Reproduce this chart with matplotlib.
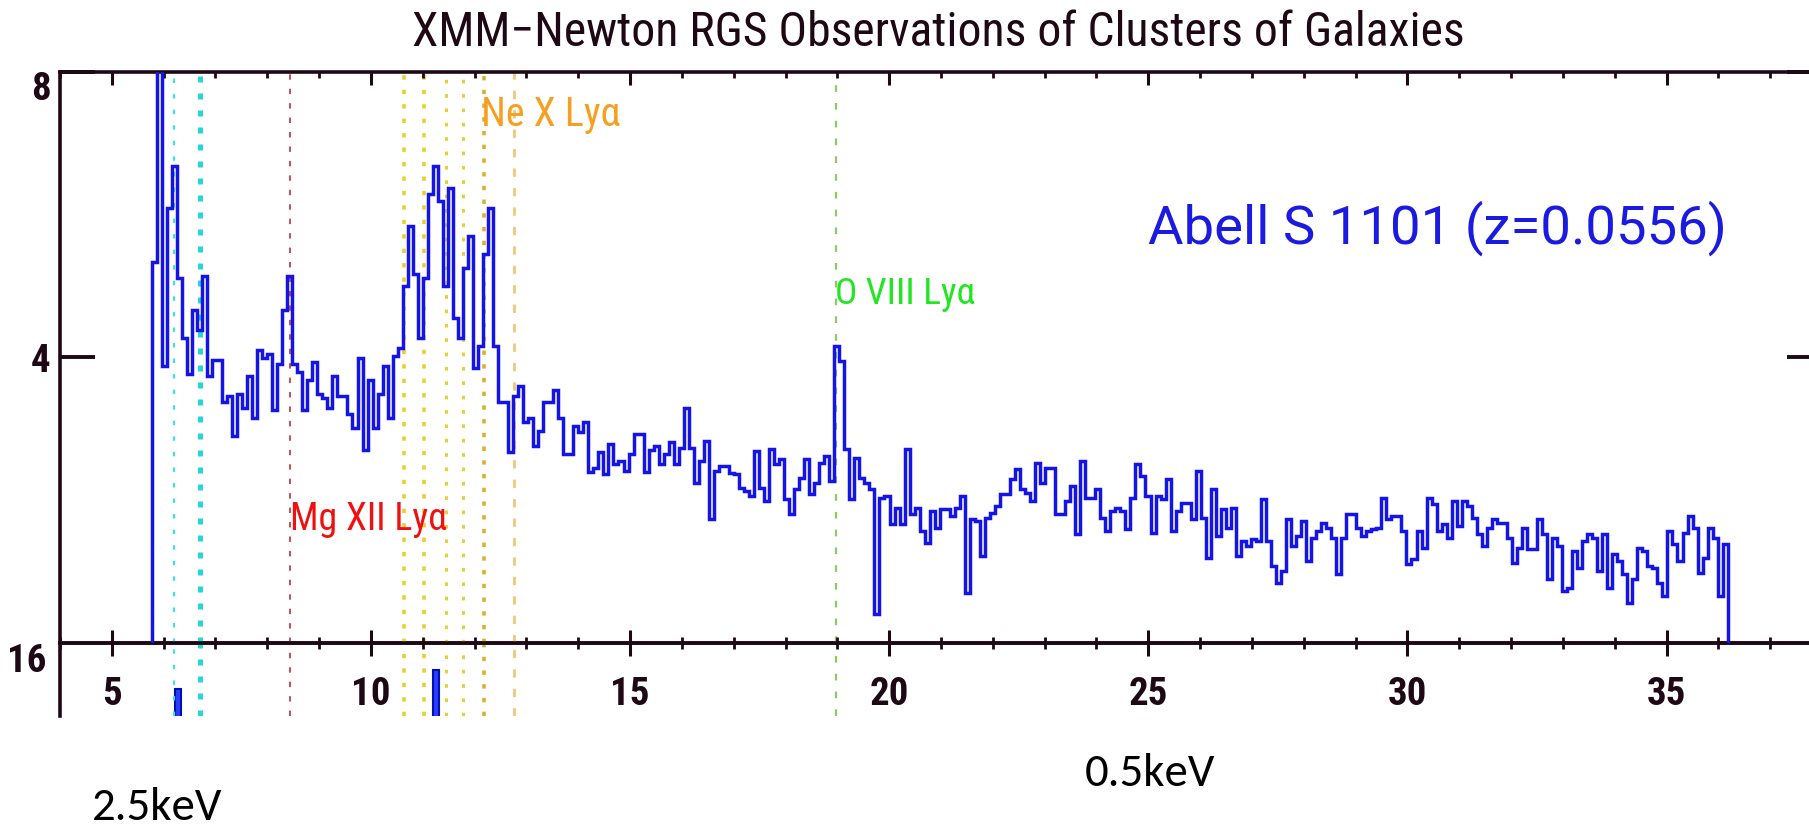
import numpy as np
import matplotlib
matplotlib.use("Agg")
import matplotlib.pyplot as plt
from matplotlib import font_manager
from matplotlib.ticker import MultipleLocator

# RGS spectrum of Abell S 1101
wave_start = 5.77
wave_end = 36.18
counts = [
    # 5.8 - 10.9 A
    5.33, 9.0, 3.87, 6.09, 6.68, 5.11, 4.27, 3.76, 4.66, 4.38,
    5.14, 3.73, 3.96, 3.96, 3.37, 3.45, 2.89, 3.48, 3.28, 3.73,
    3.14, 4.10, 3.99, 4.04, 3.26, 3.90, 4.66, 5.14, 3.90, 3.79,
    3.26, 3.68, 3.93, 3.48, 3.43, 3.28, 3.73, 3.45, 3.45, 3.20,
    3.00, 3.99, 2.70, 3.68, 3.00, 3.48, 3.87, 3.14, 4.01, 4.13,
    5.00, 5.84, 5.17, 4.27,
    # 10.9 - 16.0 A
    5.11, 6.29, 6.68, 6.18, 5.00, 6.37, 4.55, 4.27, 5.25, 5.70,
    3.85, 4.15, 5.45, 6.09, 4.15, 3.37, 3.37, 2.67, 3.45, 3.59,
    3.09, 3.14, 2.75, 2.97, 3.37, 3.37, 3.54, 3.14, 2.64, 2.64,
    3.03, 2.95, 3.09, 2.39, 2.44, 2.67, 2.36, 2.78, 2.50, 2.55,
    2.41, 2.64, 2.92, 2.92, 2.39, 2.70, 2.75, 2.50, 2.64, 2.81,
    2.50, 2.72, 3.29,
    # 16.0 - 21.0 A
    2.73, 2.24, 2.54, 2.82, 1.73, 2.40, 2.47, 2.47, 2.38, 2.36,
    2.17, 2.12, 2.05, 2.68, 2.17, 1.98, 2.71, 2.50, 2.57, 2.01,
    1.80, 2.15, 2.31, 2.57, 2.08, 2.24, 2.52, 2.61, 2.26, 4.15,
    3.94, 2.71, 2.01, 2.59, 2.31, 2.24, 2.15, 0.40, 2.03, 2.05,
    1.66, 1.89, 1.66, 2.71, 1.80, 1.89, 1.56, 1.40, 1.84, 1.61,
    1.87,
    # 21.0 - 26.0 A
    1.87, 1.77, 1.89, 2.05, 0.70, 1.73, 1.70, 1.21, 1.75, 1.82,
    1.91, 2.08, 2.08, 2.29, 2.43, 2.15, 2.10, 1.98, 2.52, 2.24,
    2.45, 2.45, 1.80, 1.80, 1.98, 2.19, 1.52, 2.54, 2.03, 2.03,
    2.15, 1.75, 1.56, 1.84, 1.89, 1.84, 1.59, 2.03, 2.50, 2.33,
    2.05, 1.54, 2.05, 2.01, 2.29, 1.56, 1.84, 1.96, 1.96, 1.73,
    2.40, 1.75,
    # 26.0 - 31.0 A
    1.19, 2.15, 1.49, 1.87, 1.61, 1.89, 1.21, 1.42, 1.35, 1.45,
    1.42, 2.01, 1.42, 1.07, 0.84, 1.00, 1.73, 1.35, 1.49, 1.70,
    1.14, 1.47, 1.56, 1.68, 1.61, 1.47, 0.96, 1.47, 1.80, 1.80,
    1.61, 1.49, 1.56, 1.59, 1.61, 2.03, 1.73, 1.77, 1.77, 1.56,
    1.10, 1.17, 1.56, 1.33, 2.03, 1.94, 1.56, 1.66, 1.47, 1.98,
    1.63,
    # 31.0 - 36.2 A
    1.98, 1.91, 1.75, 1.52, 1.35, 1.61, 1.73, 1.68, 1.68, 1.47,
    1.12, 1.33, 1.61, 1.31, 1.31, 1.73, 1.52, 0.89, 1.47, 1.35,
    0.72, 0.77, 1.28, 1.05, 1.42, 1.52, 1.47, 1.00, 1.52, 0.77,
    1.24, 1.14, 0.96, 0.56, 0.89, 1.33, 1.28, 1.07, 1.05, 0.84,
    0.65, 1.56, 1.38, 1.14, 1.54, 1.77, 1.61, 0.98, 1.19, 1.61,
    1.47, 0.65, 1.38,
]

# bits of the lower panel that poke into view
lower_waves = [6.27, 11.25]
lower_counts = [14.73, 15.25]

# redshifted line markers
line_waves = [6.20, 6.70, 8.43, 10.63, 11.02, 11.44, 11.77, 12.18, 12.76, 18.97]
line_colors = ["#3fe0e0", "#22d8d8", "#c04040", "#e8d030", "#e8d030",
               "#e6cf3a", "#e6cf3a", "#d9b030", "#f0c878", "#88cc66"]
line_widths = [1.6, 3.6, 1.3, 2.6, 2.6, 2.2, 2.2, 2.6, 2.0, 1.6]
line_dashes = [(0, (2, 5)), (0, (1.2, 2.2)), (0, (3, 5)), (0, (1.2, 2.8)),
               (0, (1.2, 2.8)), (0, (1.2, 3.5)), (0, (1.2, 3.5)),
               (0, (1.2, 2.6)), (0, (3, 4)), (0, (3, 5))]

title = "XMM\u2212Newton RGS Observations of Clusters of Galaxies"
source = "Abell S 1101 (z=0.0556)"
ion_labels = ["Mg XII Ly\u03b1", "Ne X Ly\u03b1", "O VIII Ly\u03b1"]
ion_colors = ["#ee1111", "#f5a020", "#22e622"]
energy_labels = ["2.5keV", "0.5keV"]

installed = {f.name for f in font_manager.fontManager.ttflist}
plot_font = next(f for f in ["Liberation Sans Narrow", "Roboto Condensed",
                             "Roboto", "DejaVu Sans"] if f in installed)
wide_font = "Roboto" if "Roboto" in installed else "DejaVu Sans"
note_font = "Carlito" if "Carlito" in installed else "Lato"
plt.rcParams["font.family"] = [plot_font, "DejaVu Sans"]

W, H = 1809, 825
ink = "#1e0814"
blue = "#1414e6"

fig = plt.figure(figsize=(W / 100, H / 100), dpi=100)
fig.patch.set_facecolor("white")


def px_box(left, top, right, bottom):
    return [left / W, 1 - bottom / H, (right - left) / W, (bottom - top) / H]


ax = fig.add_axes(px_box(60, 71.5, 1822, 642.6))
ax2 = fig.add_axes(px_box(60, 642.6, 1822, 716))
ax.set_zorder(2)
ax.patch.set_visible(False)
ax2.patch.set_visible(False)

edges = np.linspace(wave_start, wave_end, len(counts) + 1)
ax.stairs(counts, edges, baseline=0, color=blue, lw=2.5, zorder=3)
ax2.bar(lower_waves, lower_counts, width=0.12, color="#2a3cff",
        edgecolor="#0010b0", lw=1.5)

for a in (ax, ax2):
    for x, c, lw, ls in zip(line_waves, line_colors, line_widths, line_dashes):
        a.axvline(x, color=c, lw=lw, linestyle=ls, zorder=1)
    a.set_xlim(4, 38)
    a.xaxis.set_major_locator(MultipleLocator(5))
    a.xaxis.set_minor_locator(MultipleLocator(1))
    for s in a.spines.values():
        s.set_color(ink)
        s.set_linewidth(2.6)

ax.set_ylim(0, 8)
ax.set_yticks([4, 8], labels=["4", "8"])
ax.tick_params(axis="y", direction="in", length=25, width=2.8, left=True,
               right=True, labelsize=28, pad=7, colors=ink)
ax.get_yticklabels()[1].set_verticalalignment("top")
ax.tick_params(axis="x", which="major", direction="in", length=9.5, width=2.2,
               top=True, bottom=True, labelsize=28, pad=24, colors=ink)
ax.tick_params(axis="x", which="minor", direction="in", length=4.5, width=2.0,
               top=True, bottom=True, colors=ink)

ax2.set_ylim(13.97, 16)
ax2.set_yticks([16], labels=["16"])
ax2.get_yticklabels()[0].set_verticalalignment("top")
ax2.tick_params(axis="y", direction="in", length=0, labelsize=28, pad=10, colors=ink)
ax2.tick_params(axis="x", which="both", direction="in", top=True, bottom=False,
                labelbottom=False, colors=ink)
ax2.tick_params(axis="x", which="major", length=9.5, width=2.2)
ax2.tick_params(axis="x", which="minor", length=4.5, width=2.0)
ax2.spines["bottom"].set_visible(False)

for lbl in ax.get_xticklabels() + ax.get_yticklabels() + ax2.get_yticklabels():
    lbl.set_fontweight("bold")

renderer = fig.canvas.get_renderer()


def fit_width(txt, width_px):
    w = txt.get_window_extent(renderer=renderer).width
    txt.set_fontsize(txt.get_fontsize() * width_px / w)


t = fig.text(938 / W, 1 - 33 / H, title, ha="center", va="center",
             color=ink, fontsize=30)
fit_width(t, 1055)

t = ax.text(25.0, 5.81, source, ha="left", va="center", color="#1a1ae0",
            family=[wide_font, "DejaVu Sans"], fontsize=30)
fit_width(t, 578)

label_spots = [(8.43, 1.72, 157), (12.13, 7.40, 139), (18.95, 4.88, 140)]
for lab, col, (x, y, w) in zip(ion_labels, ion_colors, label_spots):
    t = ax.text(x, y, lab, ha="left", va="center", color=col, fontsize=20,
                zorder=4)
    fit_width(t, w)

for lab, (x, y) in zip(energy_labels, [(92, 808), (1085, 773)]):
    t = fig.text(x / W, 1 - y / H, lab, ha="left", va="center",
                 family=note_font, color="black", fontsize=28)
    fit_width(t, 130)

fig.savefig("out.png", dpi=100, facecolor="white")
